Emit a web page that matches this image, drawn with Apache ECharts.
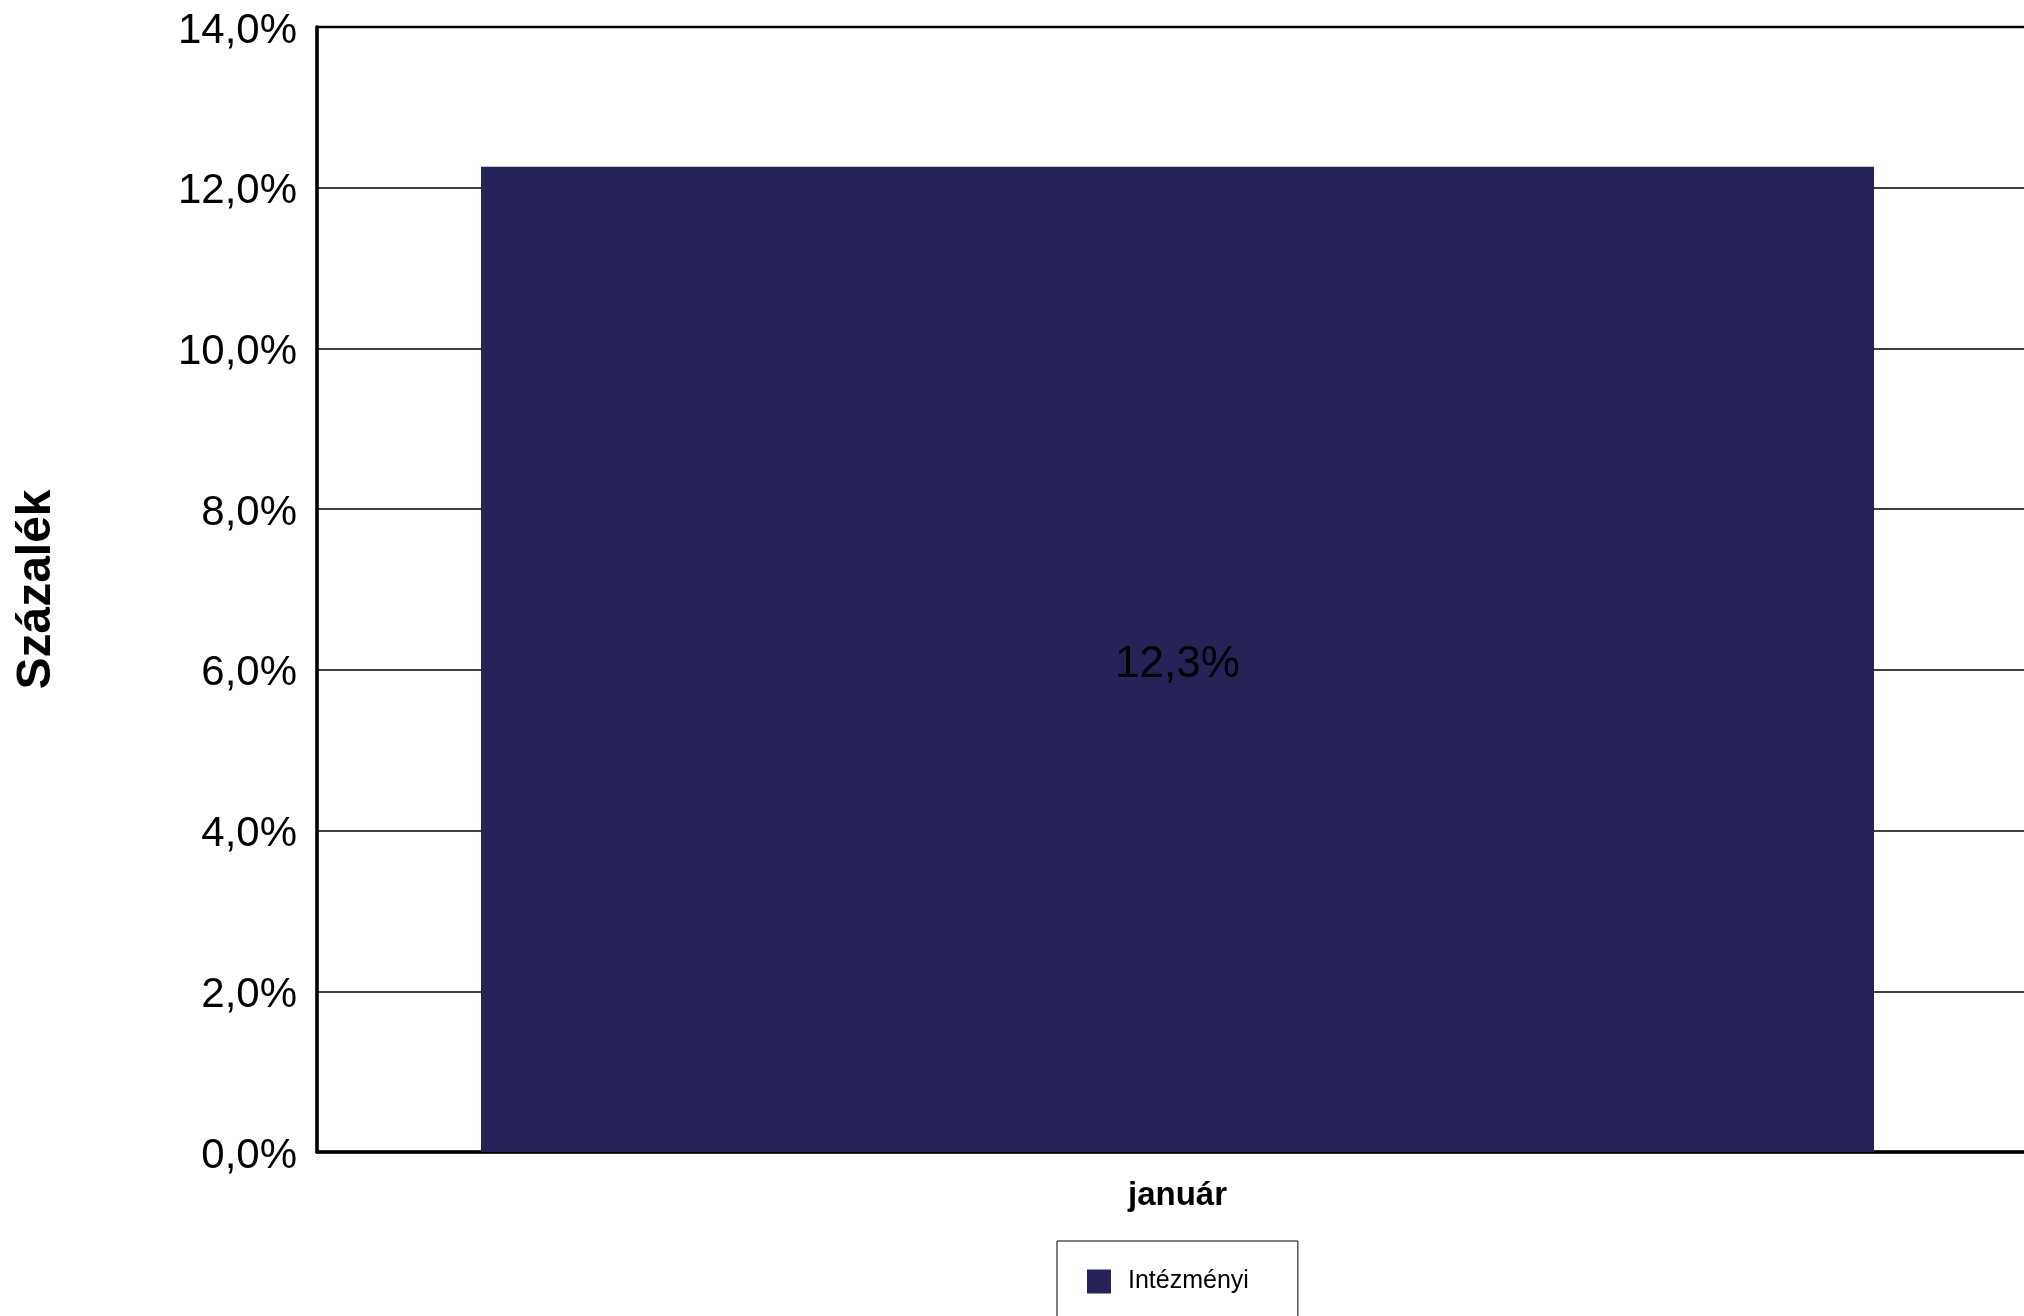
<!DOCTYPE html>
<html><head><meta charset="utf-8">
<script src="https://cdn.jsdelivr.net/npm/echarts@6/dist/echarts.min.js"></script>
<style>html,body{margin:0;padding:0;background:#fff}#c{width:2024px;height:1316px}</style>
</head><body><div id="c"></div>
<script>
const categories = ['január'];
const seriesName = 'Intézményi';
const values = [12.26];
const yMin = 0, yMax = 14, yStep = 2;

const fmt = v => v.toFixed(1).replace('.', ',') + '%';
const FONT = '"Liberation Sans", Arial, Helvetica, sans-serif';

const chart = echarts.init(document.getElementById('c'), null, {renderer: 'canvas'});
chart.setOption({
  animation: false,
  backgroundColor: '#fff',
  textStyle: {fontFamily: FONT},
  grid: {left: 317, top: 27, right: -14, bottom: 164, outerBoundsMode: 'none', containLabel: false,
         show: true, borderColor: '#000', borderWidth: 2.5, backgroundColor: 'transparent'},
  legend: {
    data: [seriesName], left: 1057, top: 1241,
    padding: [28, 49, 40, 30],
    borderColor: '#000', borderWidth: 1,
    itemWidth: 24, itemHeight: 24,
    icon: 'rect',
    textStyle: {fontSize: 25, color: '#000', fontFamily: FONT, padding: [0, 0, 0, 12]}
  },
  xAxis: {
    type: 'category', data: categories,
    axisLine: {show: true, lineStyle: {color: '#000', width: 3.5}},
    axisTick: {show: false},
    axisLabel: {fontSize: 33, fontWeight: 'bold', color: '#000', margin: 27, fontFamily: FONT}
  },
  yAxis: {
    type: 'value', min: yMin, max: yMax, interval: yStep,
    name: 'Százalék', nameLocation: 'middle', nameGap: 256, nameRotate: 90,
    nameTextStyle: {fontSize: 48, fontWeight: 'bold', color: '#000', fontFamily: FONT},
    axisLine: {show: true, lineStyle: {color: '#000', width: 3.5}},
    axisTick: {show: false},
    axisLabel: {fontSize: 42, color: '#000', margin: 20, fontFamily: FONT, verticalAlign: 'top', lineHeight: 8, formatter: v => fmt(v)},
    splitLine: {show: true, lineStyle: {color: '#000', width: 1.5}}
  },
  series: [{
    name: seriesName, type: 'bar', data: values, barWidth: 1393,
    itemStyle: {color: '#252258'},
    label: {show: true, position: 'inside', fontSize: 44, color: '#000', fontFamily: FONT, offset: [0, 5], formatter: p => fmt(p.value)}
  }]
});
</script></body></html>
